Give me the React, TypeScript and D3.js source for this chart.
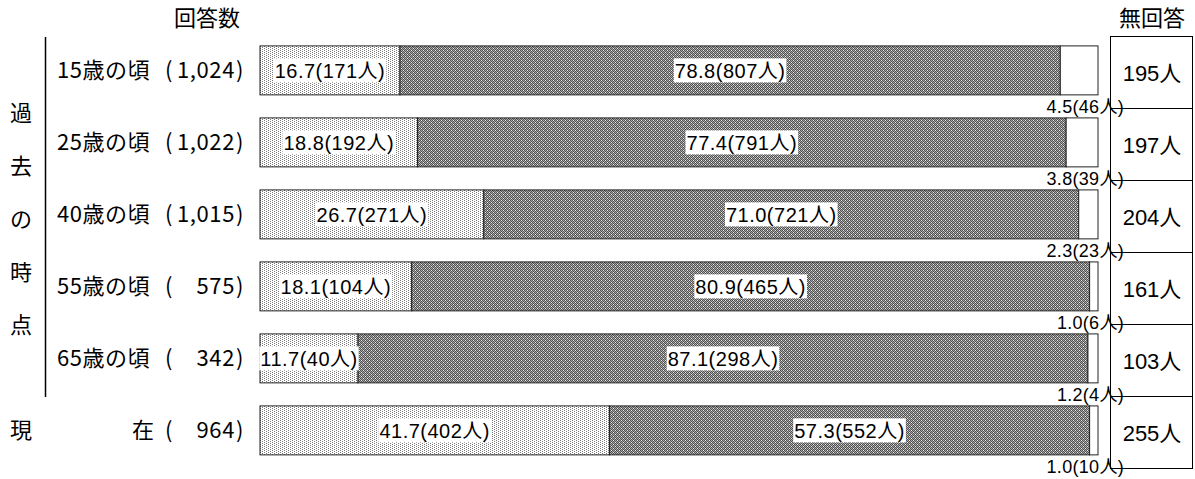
import React, { useEffect, useRef } from "react";
import * as d3 from "d3";

const categories = ["15歳の頃", "25歳の頃", "40歳の頃", "55歳の頃", "65歳の頃", "現在"];
const respondents = ["1,024", "1,022", "1,015", "575", "342", "964"];
const seg1Pct = [16.7, 18.8, 26.7, 18.1, 11.7, 41.7];
const seg1Count = [171, 192, 271, 104, 40, 402];
const seg2Pct = [78.8, 77.4, 71.0, 80.9, 87.1, 57.3];
const seg2Count = [807, 791, 721, 465, 298, 552];
const seg3Pct = [4.5, 3.8, 2.3, 1.0, 1.2, 1.0];
const seg3Count = [46, 39, 23, 6, 4, 10];
const noAnswer = [195, 197, 204, 161, 103, 255];
const groupLabel = ["過", "去", "の", "時", "点"];

const W = 1195;
const H = 479;
const CJK = "'Noto Sans CJK JP', sans-serif";
const NUM = "'Liberation Sans', 'Noto Sans CJK JP', sans-serif";

export default function App() {
  const ref = useRef<SVGSVGElement | null>(null);

  useEffect(() => {
    document.body.style.margin = "0";
    const svg = d3.select(ref.current);
    svg.selectAll("*").remove();

    const defs = svg.append("defs");
    const p1 = defs.append("pattern").attr("id", "pLight").attr("width", 4).attr("height", 2).attr("patternUnits", "userSpaceOnUse");
    p1.append("rect").attr("width", 4).attr("height", 2).attr("fill", "#fff");
    p1.append("rect").attr("x", 0).attr("y", 0).attr("width", 1).attr("height", 1).attr("fill", "#7a7a7a");
    p1.append("rect").attr("x", 2).attr("y", 1).attr("width", 1).attr("height", 1).attr("fill", "#7a7a7a");

    const p2 = defs.append("pattern").attr("id", "pDark").attr("width", 4).attr("height", 4).attr("patternUnits", "userSpaceOnUse");
    p2.append("rect").attr("width", 4).attr("height", 4).attr("fill", "#a8a8a8");
    [[0, 0], [2, 0], [1, 1], [3, 1], [0, 2], [2, 2], [1, 3], [3, 3]].forEach(([px, py]) =>
      p2.append("rect").attr("x", px).attr("y", py).attr("width", 1).attr("height", 1).attr("fill", "#505050"));
    [[1, 0], [3, 2]].forEach(([px, py]) =>
      p2.append("rect").attr("x", px).attr("y", py).attr("width", 1).attr("height", 1).attr("fill", "#eeeeee"));

    const y = d3.scaleBand<string>().domain(categories).range([36, 468]).paddingInner(0.32).paddingOuter(0.16).align(0.43);
    const rows = d3.scaleBand<string>().domain(categories).range([36, 468]);
    const x = d3.scaleLinear().domain([0, 100]).range([260, 1098]);
    const bh = y.bandwidth();

    // headers
    svg.append("text").attr("x", 207).attr("y", 18).attr("dy", "0.35em").attr("text-anchor", "middle")
      .style("font-family", CJK).style("font-size", "22px").text("回答数");
    svg.append("text").attr("x", 1152).attr("y", 18).attr("dy", "0.35em").attr("text-anchor", "middle")
      .style("font-family", CJK).style("font-size", "22px").text("無回答");

    // group bracket
    svg.append("line").attr("x1", 45.5).attr("x2", 45.5).attr("y1", 37).attr("y2", 397).attr("stroke", "#000").attr("stroke-width", 1.5);
    groupLabel.forEach((g, i) => {
      svg.append("text").attr("x", 21).attr("y", 113 + i * 53).attr("dy", "0.35em").attr("text-anchor", "middle")
        .style("font-family", CJK).style("font-size", "22px").text(g);
    });

    categories.forEach((c, i) => {
      const cy = (y(c) as number) + bh / 2;
      const top = y(c) as number;
      const lbl = (xx: number, t: string, anchor = "start", ls = 0) =>
        svg.append("text").attr("x", xx).attr("y", cy).attr("dy", "0.35em").attr("text-anchor", anchor)
          .style("font-family", CJK).style("font-size", "22px").style("letter-spacing", `${ls}px`).text(t);
      if (c === "現在") {
        lbl(10, "現");
        lbl(132, "在");
      } else {
        lbl(57, c, "start", 0.5);
      }
      lbl(165, "(");
      lbl(235, respondents[i], "end", 0.6);
      lbl(236, ")");

      // bars
      const s1 = seg1Pct[i], s2 = seg2Pct[i], s3 = seg3Pct[i];
      const segs = [
        { x0: 0, x1: s1, fill: "url(#pLight)" },
        { x0: s1, x1: s1 + s2, fill: "url(#pDark)" },
        { x0: s1 + s2, x1: s1 + s2 + s3, fill: "#fff" },
      ];
      segs.forEach((s) => {
        svg.append("rect").attr("x", x(s.x0)).attr("y", top).attr("width", x(s.x1) - x(s.x0)).attr("height", bh)
          .attr("fill", s.fill).attr("stroke", "#222").attr("stroke-width", 1);
      });

      const inLabel = (cx: number, txt: string) => {
        const g = svg.append("g");
        const bg = g.append("rect").attr("fill", "#fff");
        const t = g.append("text").attr("x", cx).attr("y", cy).attr("dy", "0.36em").attr("text-anchor", "middle")
          .style("font-family", NUM).style("font-size", "20px").style("letter-spacing", "0.5px").text(txt);
        const bb = (t.node() as SVGTextElement).getBBox();
        bg.attr("x", bb.x - 1).attr("y", cy - 12).attr("width", bb.width + 2).attr("height", 24);
      };
      inLabel((x(0) + x(s1)) / 2, `${s1.toFixed(1)}(${seg1Count[i]}人)`);
      inLabel((x(s1) + x(s1 + s2)) / 2, `${s2.toFixed(1)}(${seg2Count[i]}人)`);

      // right box rows
      const rt = rows(c) as number;
      svg.append("rect").attr("x", 1110.5).attr("y", rt + 0.5).attr("width", 82).attr("height", rows.bandwidth())
        .attr("fill", "#fff").attr("stroke", "#000").attr("stroke-width", 1);
      svg.append("text").attr("x", 1152).attr("y", rt + rows.bandwidth() / 2 + 1).attr("dy", "0.35em").attr("text-anchor", "middle")
        .style("font-family", NUM).style("font-size", "22px").text(`${noAnswer[i]}人`);
    });

    // small labels below bars (drawn last, over the box lines)
    categories.forEach((c, i) => {
      const top = y(c) as number;
      svg.append("text").attr("x", 1124).attr("y", top + bh + 18).attr("text-anchor", "end")
        .style("font-family", NUM).style("font-size", "18px").style("letter-spacing", "0.3px")
        .text(`${seg3Pct[i].toFixed(1)}(${seg3Count[i]}人)`);
    });
  }, []);

  return <svg ref={ref} width={W} height={H} style={{ display: "block", background: "#fff" }} />;
}
